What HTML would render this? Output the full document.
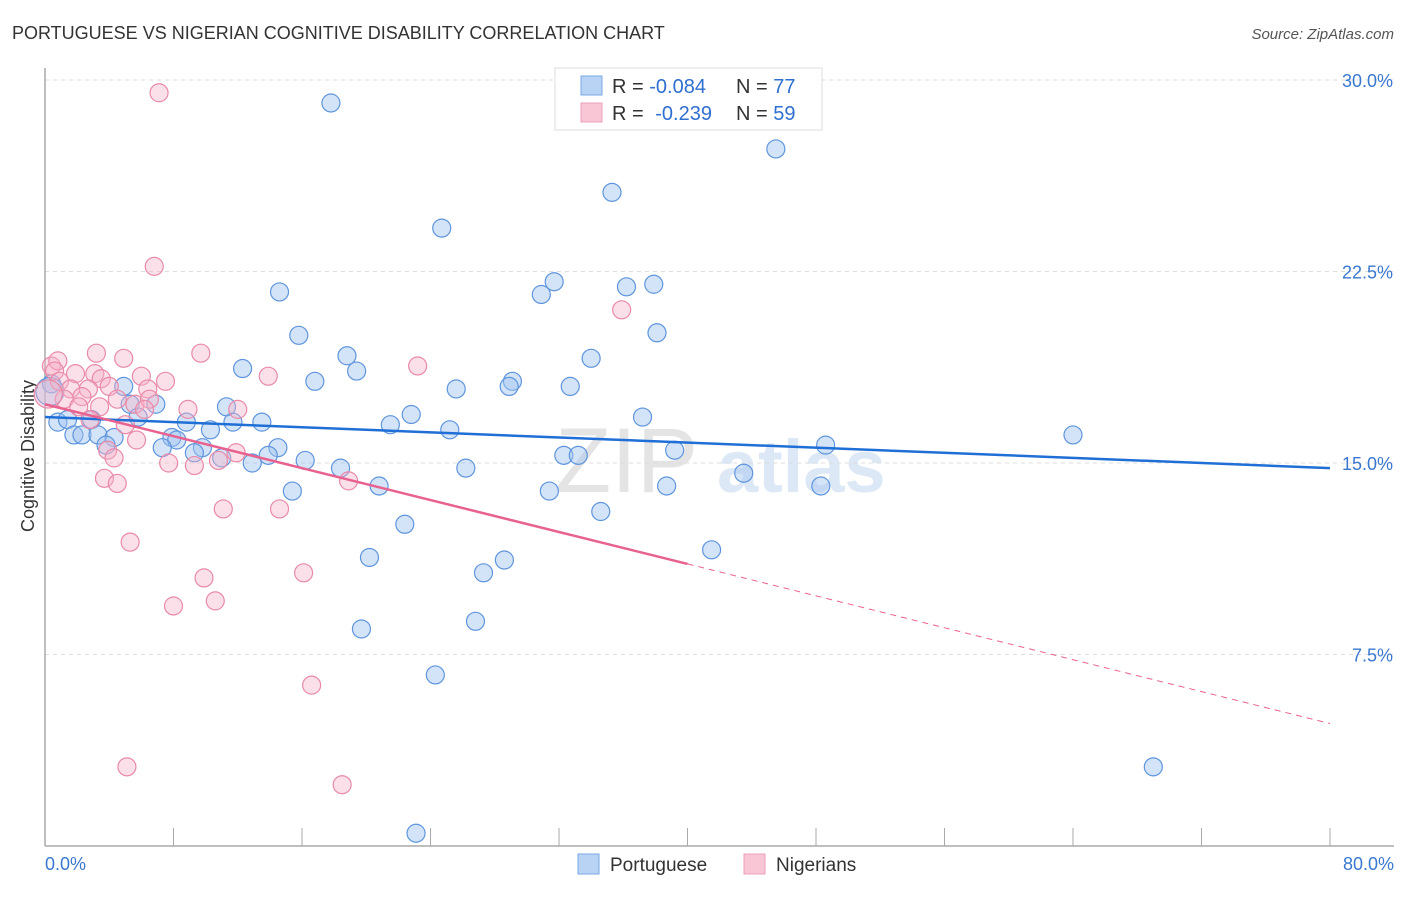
<!DOCTYPE html>
<html><head><meta charset="utf-8"><style>
body{margin:0;background:#fff;font-family:"Liberation Sans",sans-serif;}
svg text{font-family:"Liberation Sans",sans-serif;}
</style></head><body>
<svg id="chart" width="1406" height="892" xmlns="http://www.w3.org/2000/svg">
<text x="12" y="39" font-size="18" fill="#333">PORTUGUESE VS NIGERIAN COGNITIVE DISABILITY CORRELATION CHART</text>
<text x="1394" y="39" font-size="15" fill="#555" text-anchor="end" font-style="italic">Source: ZipAtlas.com</text>
<text x="555" y="492" font-size="92" fill="#e4e4e4" font-family="Liberation Serif">ZIP</text>
<text x="717" y="492" font-size="74" fill="#dce8f6" font-weight="bold">atlas</text>
<g id="grid"></g>
<line x1="45" y1="68" x2="45" y2="846" stroke="#aaa" stroke-width="1.5"/>
<line x1="45" y1="846" x2="1394" y2="846" stroke="#aaa" stroke-width="1.5"/>
<text transform="translate(34,456) rotate(-90)" font-size="18" fill="#333" text-anchor="middle">Cognitive Disability</text>
<text x="45" y="870" font-size="18" fill="#3a78d0">0.0%</text>
<text x="1394" y="870" font-size="18" fill="#3a78d0" text-anchor="end">80.0%</text>
<g id="points"></g>
<g id="lines"></g>
<g>
<rect x="555" y="68" width="267" height="62" fill="#fff" stroke="#ddd"/>
<rect x="581" y="76" width="21" height="19" fill="#b8d3f4" stroke="#7aa8e6"/>
<rect x="581" y="103" width="21" height="19" fill="#f9c6d6" stroke="#eca0ba"/>
<text x="612" y="93" font-size="20" fill="#333">R = <tspan fill="#2f6fd0">-0.084</tspan></text>
<text x="736" y="93" font-size="20" fill="#333">N = <tspan fill="#2f6fd0">77</tspan></text>
<text x="612" y="120" font-size="20" fill="#333">R = <tspan fill="#2f6fd0" dx="6">-0.239</tspan></text>
<text x="736" y="120" font-size="20" fill="#333">N = <tspan fill="#2f6fd0">59</tspan></text>
</g>
<g>
<rect x="578" y="854" width="21" height="20" fill="#b8d3f4" stroke="#7aa8e6"/>
<text x="610" y="871" font-size="19" fill="#333">Portuguese</text>
<rect x="744" y="854" width="21" height="20" fill="#f9c6d6" stroke="#eca0ba"/>
<text x="776" y="871" font-size="19" fill="#333">Nigerians</text>
</g>
</svg>
<script>
const yTicks=[7.5,15,22.5,30];
const yTickLabels=["7.5%","15.0%","22.5%","30.0%"];
const xTicks=[8,16,24,32,40,48,56,64,72,80];
const portX=[17.8,45.5,35.3,24.7,14.6,31.7,30.9,36.2,37.9,38.1,15.8,18.8,34.0,12.3,19.4,16.8,29.1,28.9,25.6,32.7,4.9,0.4,11.3,6.9,5.3,22.8,37.2,13.5,8.8,11.7,2.9,0.8,1.4,5.8,21.5,25.2,1.8,2.3,3.3,4.3,7.9,8.2,10.3,64.0,48.6,3.8,7.3,9.8,11.0,9.3,14.5,13.9,12.9,16.2,18.4,32.3,33.2,39.2,26.2,43.5,15.4,20.8,31.4,38.7,48.3,34.6,22.4,41.5,20.2,28.6,27.3,26.8,19.7,24.3,69.0,23.1,0.3];
const portY=[29.1,27.3,25.6,24.2,21.7,22.1,21.6,21.9,22.0,20.1,20.0,19.2,19.1,18.7,18.6,18.2,18.2,18.0,17.9,18.0,18.0,18.1,17.2,17.3,17.3,16.9,16.8,16.6,16.6,16.6,16.7,16.6,16.7,16.8,16.5,16.3,16.1,16.1,16.1,16.0,16.0,15.9,16.3,16.1,15.7,15.7,15.6,15.6,15.2,15.4,15.6,15.3,15.0,15.1,14.8,15.3,15.3,15.5,14.8,14.6,13.9,14.1,13.9,14.1,14.1,13.1,12.6,11.6,11.3,11.2,10.7,8.8,8.5,6.7,3.1,0.5,17.8];
const nigX=[7.1,6.8,35.9,9.7,3.2,4.9,23.2,0.4,0.8,0.6,1.9,3.1,3.5,6.0,7.5,13.9,4.0,0.9,1.6,2.7,6.4,1.2,2.3,4.5,5.6,6.5,6.2,8.9,12.0,2.1,3.4,2.8,5.0,5.7,3.9,4.3,7.7,9.3,11.9,10.8,18.9,3.7,4.5,11.1,14.6,5.3,9.9,16.1,10.6,8.0,16.6,5.1,18.5,0.2];
const nigY=[29.5,22.7,21.0,19.3,19.3,19.1,18.8,18.8,19.0,18.6,18.5,18.5,18.3,18.4,18.2,18.4,18.0,18.2,17.9,17.9,17.9,17.5,17.6,17.5,17.3,17.5,17.1,17.1,17.1,17.2,17.2,16.7,16.5,15.9,15.5,15.2,15.0,14.9,15.4,15.1,14.3,14.4,14.2,13.2,13.2,11.9,10.5,10.7,9.6,9.4,6.3,3.1,2.4,17.7];
const portTrend=[16.8,-0.025];
const nigTrend=[17.3,-0.1563];
const nigSolidEnd=40;
const NS="http://www.w3.org/2000/svg";
const xs=v=>45+v/80*1285;
const ys=v=>846-v/30*766;
function mk(t,p,a){const e=document.createElementNS(NS,t);for(const k in a)e.setAttribute(k,a[k]);p.appendChild(e);return e;}
const grid=document.getElementById('grid');
yTicks.forEach((t,i)=>{
 const l=mk('line',grid,{x1:45,x2:1394,y1:ys(t),y2:ys(t),stroke:'#ddd','stroke-dasharray':'4,4'});
 
 
 const tx=mk('text',grid,{x:1393,y:ys(t)+7,'font-size':18,fill:'#3a78d0','text-anchor':'end'});
 tx.textContent=yTickLabels[i];
 
 
});
xTicks.forEach(t=>{
 const l=mk('line',grid,{x1:xs(t),x2:xs(t),y1:828,y2:846,stroke:'#aaa'});
 
 
});
const pts=document.getElementById('points');
portX.forEach((x,i)=>{
 const c=mk('circle',pts,{cx:xs(x),cy:ys(portY[i]),r:i==portX.length-1?14:9,fill:'rgba(160,196,240,0.45)',stroke:'#5f95dc','stroke-width':1.2});
 
 
});
nigX.forEach((x,i)=>{
 const c=mk('circle',pts,{cx:xs(x),cy:ys(nigY[i]),r:i==nigX.length-1?14:9,fill:'rgba(247,178,200,0.4)',stroke:'#e88aa8','stroke-width':1.2});
 
 
});
const ln=document.getElementById('lines');
const f=(tr,x)=>tr[0]+tr[1]*x;
const bl=mk('line',ln,{x1:xs(0),y1:ys(f(portTrend,0)),x2:xs(80),y2:ys(f(portTrend,80)),stroke:'#1f6fd6','stroke-width':2.5});


const pl=mk('line',ln,{x1:xs(0),y1:ys(f(nigTrend,0)),x2:xs(nigSolidEnd),y2:ys(f(nigTrend,nigSolidEnd)),stroke:'#e8628f','stroke-width':2.5});


const pd=mk('line',ln,{x1:xs(nigSolidEnd),y1:ys(f(nigTrend,nigSolidEnd)),x2:xs(80),y2:ys(f(nigTrend,80)),stroke:'#e8628f','stroke-width':1,'stroke-dasharray':'6,5'});


</script>
</body></html>
